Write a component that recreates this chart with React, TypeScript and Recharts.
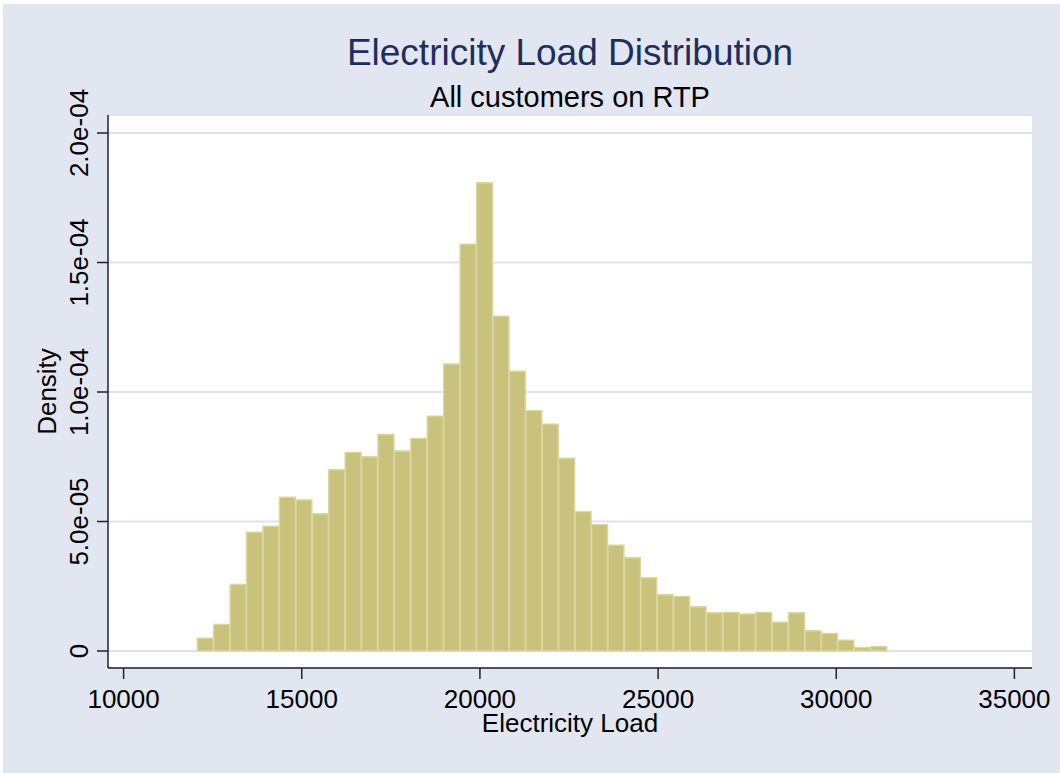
import React from 'react';
import { ComposedChart, Bar, XAxis, YAxis, CartesianGrid, Label } from 'recharts';

// Bin centers of the histogram (Electricity Load)
const binCenters: number[] = [
  12298, 12759, 13220, 13681, 14142, 14603, 15064, 15525, 15986, 16447,
  16908, 17369, 17830, 18291, 18752, 19213, 19674, 20135, 20596, 21057,
  21518, 21979, 22440, 22901, 23362, 23823, 24284, 24745, 25206, 25667,
  26128, 26589, 27050, 27511, 27972, 28433, 28894, 29355, 29816, 30277,
  30738, 31199,
];

// Density per bin
const densities: number[] = [
  4.9e-6, 1.03e-5, 2.57e-5, 4.59e-5, 4.82e-5, 5.94e-5, 5.83e-5, 5.3e-5, 7.0e-5, 7.67e-5,
  7.5e-5, 8.36e-5, 7.72e-5, 8.21e-5, 9.07e-5, 1.108e-4, 1.571e-4, 1.808e-4, 1.293e-4, 1.08e-4,
  9.28e-5, 8.76e-5, 7.44e-5, 5.38e-5, 4.88e-5, 4.09e-5, 3.6e-5, 2.83e-5, 2.17e-5, 2.11e-5,
  1.71e-5, 1.48e-5, 1.49e-5, 1.43e-5, 1.49e-5, 1.11e-5, 1.48e-5, 7.8e-6, 6.8e-6, 4.2e-6,
  1.3e-6, 1.7e-6,
];

const xTicks: number[] = [10000, 15000, 20000, 25000, 30000, 35000];
const yTicks: number[] = [0, 5e-5, 1e-4, 1.5e-4, 2e-4];
const yTickLabels: string[] = ['0', '5.0e-05', '1.0e-04', '1.5e-04', '2.0e-04'];

const title = 'Electricity Load Distribution';
const subtitle = 'All customers on RTP';
const xTitle = 'Electricity Load';
const yTitle = 'Density';

const data = binCenters.map((x, i) => ({ x, density: densities[i] }));

const FONT = '"Liberation Sans", Arial, Helvetica, sans-serif';
const BG = '#e1e6f0';

const XTick = (props: any) => {
  const { x, y, payload } = props;
  return (
    <text x={x} y={y + 27} textAnchor="middle" fontSize={26} fontFamily={FONT} fill="#000">
      {String(payload.value)}
    </text>
  );
};

const YTick = (props: any) => {
  const { x, y, payload } = props;
  const idx = yTicks.indexOf(payload.value);
  const label = idx >= 0 ? yTickLabels[idx] : String(payload.value);
  const bx = x - 7;
  return (
    <text
      x={bx}
      y={y}
      transform={`rotate(-90 ${bx} ${y})`}
      textAnchor="middle"
      fontSize={26}
      fontFamily={FONT}
      fill="#000"
    >
      {label}
    </text>
  );
};

export default function App() {
  return (
    <div style={{ position: 'absolute', left: 0, top: 0, width: 1060, height: 773, background: '#fff' }}>
      <div style={{ position: 'absolute', left: 3, top: 4, width: 1057, height: 769, background: BG }} />
      <div style={{ position: 'absolute', left: 0, top: 0 }}>
        <ComposedChart
          width={1060}
          height={773}
          data={data}
          margin={{ top: 115, right: 28, left: 0, bottom: 45 }}
          barCategoryGap={0}
          barGap={0}
        >
          <CartesianGrid vertical={false} fill="#ffffff" stroke="#dde3ef" strokeWidth={2} />
          <XAxis
            dataKey="x"
            type="number"
            domain={[9562, 35494]}
            ticks={xTicks}
            allowDataOverflow
            height={60}
            tickSize={11}
            tick={<XTick />}
            stroke="#222"
            strokeWidth={1.5}
            tickLine={{ stroke: '#222', strokeWidth: 1.5 }}
          >
            <Label
              content={(p: any) => {
                const vb = p.viewBox || { x: 108, y: 668, width: 924 };
                return (
                  <text
                    x={vb.x + vb.width / 2}
                    y={vb.y + 63.5}
                    textAnchor="middle"
                    fontSize={26}
                    fontFamily={FONT}
                    fill="#000"
                  >
                    {xTitle}
                  </text>
                );
              }}
            />
          </XAxis>
          <YAxis
            type="number"
            domain={[-6.56e-6, 2.0695e-4]}
            ticks={yTicks}
            allowDataOverflow
            width={108}
            tickSize={11}
            tick={<YTick />}
            stroke="#222"
            strokeWidth={1.5}
            tickLine={{ stroke: '#222', strokeWidth: 1.5 }}
          >
            <Label
              content={(p: any) => {
                const vb = p.viewBox || { x: 0, y: 115, height: 553 };
                const cx = vb.x + 56;
                const cy = vb.y + vb.height / 2;
                return (
                  <text
                    x={cx}
                    y={cy}
                    transform={`rotate(-90 ${cx} ${cy})`}
                    textAnchor="middle"
                    fontSize={26}
                    fontFamily={FONT}
                    fill="#000"
                  >
                    {yTitle}
                  </text>
                );
              }}
            />
          </YAxis>
          <Bar
            dataKey="density"
            fill="#c9c27c"
            stroke="#dbd7a3"
            strokeWidth={1.4}
            isAnimationActive={false}
          />
        </ComposedChart>
      </div>
      <svg
        width={1060}
        height={130}
        style={{ position: 'absolute', left: 0, top: 0, pointerEvents: 'none' }}
      >
        <text x={570} y={65} textAnchor="middle" fontSize={37} fontFamily={FONT} fill="#1e2e5e">
          {title}
        </text>
        <text x={570} y={106.5} textAnchor="middle" fontSize={29} fontFamily={FONT} fill="#000">
          {subtitle}
        </text>
      </svg>
    </div>
  );
}
